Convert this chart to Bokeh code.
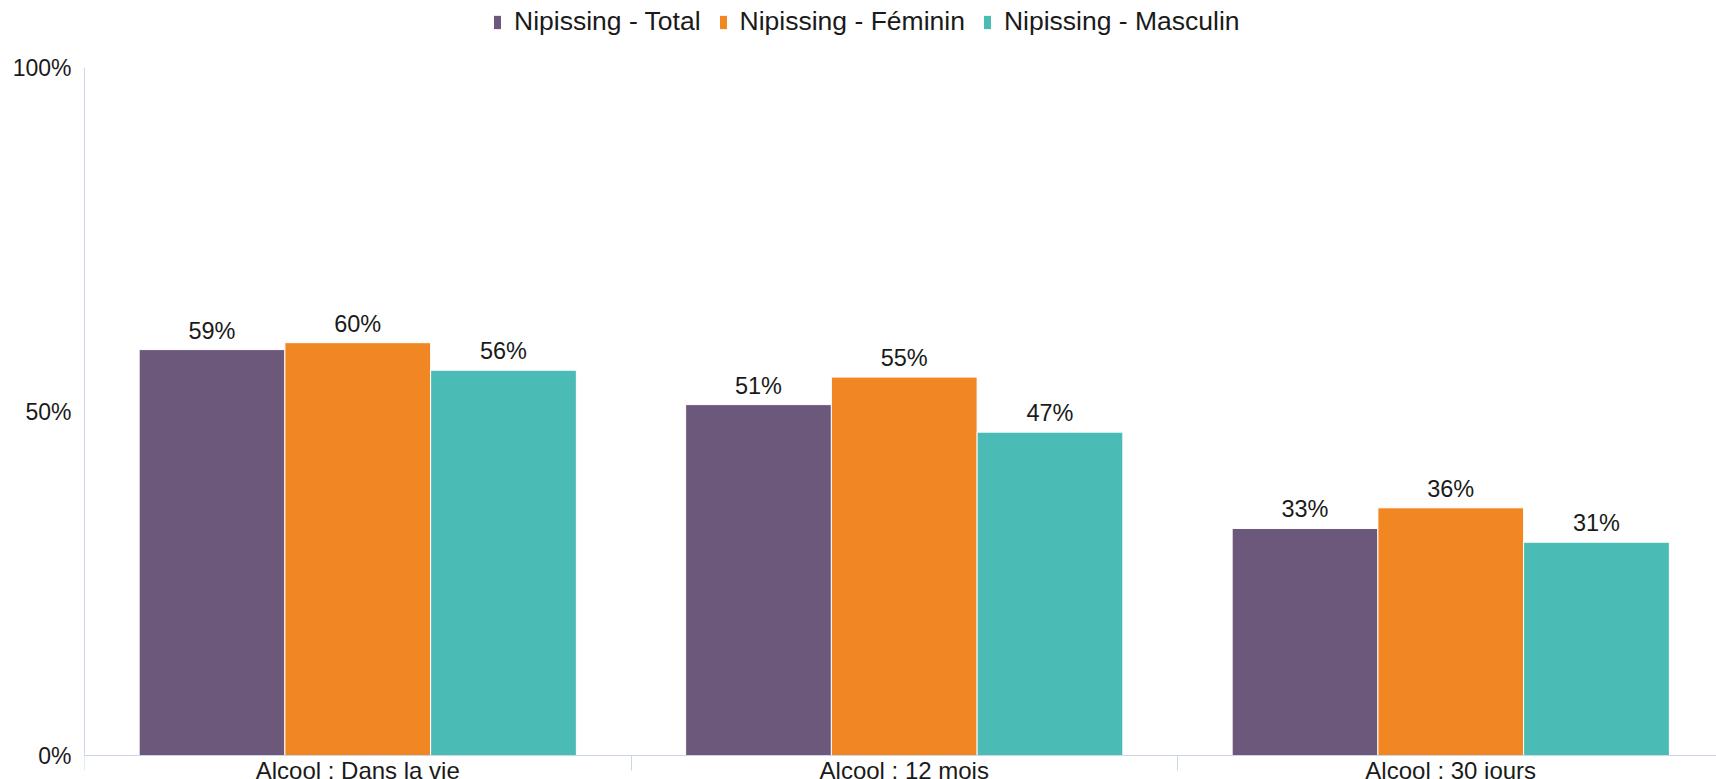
import numpy as np
from bokeh.plotting import figure
from bokeh.models import ColumnDataSource, FixedTicker, PrintfTickFormatter, Range1d, Legend, LegendItem, LabelSet
from bokeh.core.properties import value
from bokeh.embed import file_html
from bokeh.resources import INLINE

categories = ["Alcool : Dans la vie", "Alcool : 12 mois", "Alcool : 30 jours"]
series_names = ["Nipissing - Total", "Nipissing - Féminin", "Nipissing - Masculin"]
total = [59, 51, 33]
feminin = [60, 55, 36]
masculin = [56, 47, 31]
colors = ["#6b587b", "#f08723", "#4bbbb6"]
y_ticks = [0, 50, 100]

FONT = "Liberation Sans"
TXT = "#1a1a1a"
AXC = "#ccd6eb"

W, H = 1716, 779
LEFT = 84
CAT_PX = 546.5
frame_w = W - LEFT
zero_px = 755   # pixel row of the 0% level
top_px = 67     # pixel row of the 100% level
px_per_unit = (zero_px - top_px) / 100.0
p = figure(width=W, height=H, output_backend="svg", toolbar_location=None,
           x_range=Range1d(0, frame_w / CAT_PX),
           y_range=Range1d(-(H - zero_px) / px_per_unit, 100 + top_px / px_per_unit),
           min_border_left=LEFT, min_border_right=0, min_border_top=0, min_border_bottom=0)
p.outline_line_color = None
p.xgrid.visible = False
p.ygrid.visible = False
p.background_fill_color = "white"
p.border_fill_color = "white"

n = len(series_names)
group = 0.8
bw = group / n
idx = np.arange(len(categories))
items = []
for j, (name, vals, col) in enumerate(zip(series_names, [total, feminin, masculin], colors)):
    xs = idx + (1 - group) / 2 + (j + 0.5) * bw
    src = ColumnDataSource(dict(x=xs, top=vals, lab=[f"{v}%" for v in vals]))
    r = p.vbar(x="x", top="top", width=bw, bottom=0, source=src,
               fill_color=col, line_color="white", line_width=1)
    items.append(LegendItem(label=name, renderers=[r]))
    labels = LabelSet(x="x", y="top", text="lab", source=src, text_align="center",
                      text_baseline="alphabetic", y_offset=11,
                      text_font=value(FONT), text_font_size=value("23.5px"), text_color=TXT)
    p.add_layout(labels)

legend = Legend(items=items, orientation="horizontal", location=(408, 742),
                border_line_color=None, background_fill_alpha=0,
                label_text_font=FONT, label_text_font_size="26.5px", label_text_color=TXT,
                glyph_width=10, glyph_height=18, label_standoff=12, spacing=17,
                padding=0, margin=0)
p.add_layout(legend)

xa = p.xaxis[0]
xa.fixed_location = 0
xa.ticker = FixedTicker(ticks=list(idx + 0.5), minor_ticks=list(range(len(categories) + 1)))
xa.major_label_overrides = {float(i + 0.5): c for i, c in enumerate(categories)}
xa.axis_line_color = AXC
xa.major_tick_line_color = None
xa.major_tick_out = 0
xa.major_tick_in = 0
xa.minor_tick_line_color = AXC
xa.minor_tick_out = 15
xa.minor_tick_in = 0
xa.major_label_standoff = -14
xa.major_label_text_font = FONT
xa.major_label_text_font_size = "24px"
xa.major_label_text_color = TXT

ya = p.yaxis[0]
ya.ticker = FixedTicker(ticks=y_ticks, minor_ticks=[])
ya.formatter = PrintfTickFormatter(format="%d%%")
ya.bounds = (0, 100)
ya.axis_line_color = AXC
ya.major_tick_line_color = None
ya.major_tick_out = 0
ya.major_tick_in = 0
ya.minor_tick_line_color = None
ya.major_label_standoff = 13
ya.major_label_text_font = FONT
ya.major_label_text_font_size = "23px"
ya.major_label_text_color = TXT

open("out.html", "w").write(file_html(p, INLINE))
